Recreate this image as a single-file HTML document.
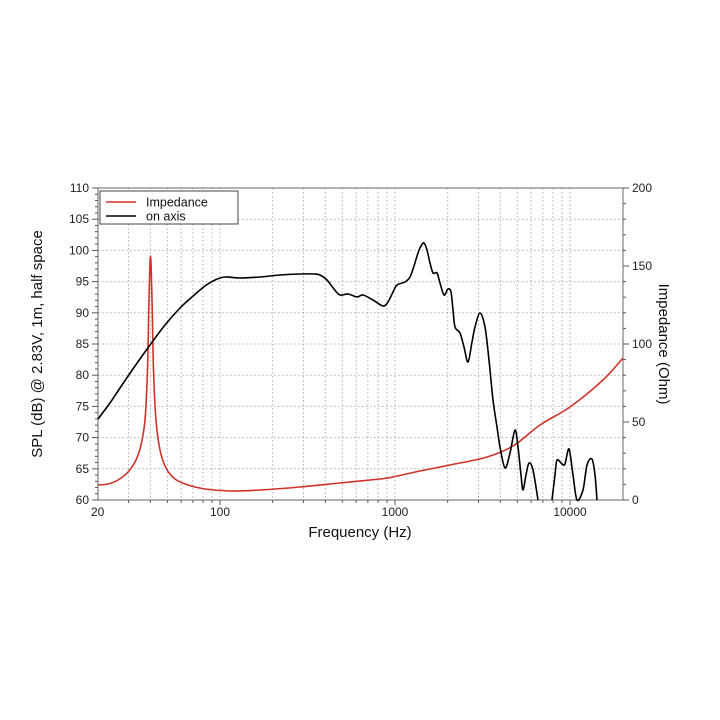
<!DOCTYPE html>
<html><head><meta charset="utf-8"><style>
html,body{margin:0;padding:0;background:#fff;}
svg{display:block;font-family:"Liberation Sans",Arial,sans-serif;}
</style></head><body>
<svg id="s" width="720" height="720" viewBox="0 0 720 720" xmlns="http://www.w3.org/2000/svg">
<g id="grid" stroke="#b0b0b0" stroke-width="1" stroke-dasharray="1.5,2.5" fill="none"></g>
<g id="ticks" stroke="#555" stroke-width="1"></g>
<rect x="98" y="188" width="525" height="312" fill="none" stroke="#666" stroke-width="1"/>
<g id="curves" fill="none" stroke-width="1.6" stroke-linejoin="round"></g>
<g id="lbl" font-size="12" fill="#222"></g>
<rect x="100" y="191" width="138" height="33" fill="#fff" stroke="#444" stroke-width="1"/>
<line x1="106" y1="202" x2="136" y2="202" stroke="#d0322a" stroke-width="1.6"/>
<line x1="106" y1="216" x2="136" y2="216" stroke="#000" stroke-width="1.6"/>
<text x="146" y="206.5" font-size="12.5" fill="#111">Impedance</text>
<text x="146" y="220.5" font-size="12.5" fill="#111">on axis</text>
<text x="360" y="537" font-size="15" text-anchor="middle" fill="#111">Frequency (Hz)</text>
<text transform="translate(42,344) rotate(-90)" font-size="15" text-anchor="middle" fill="#111">SPL (dB) @ 2.83V, 1m, half space</text>
<text transform="translate(659,344) rotate(90)" font-size="15" text-anchor="middle" fill="#111">Impedance (Ohm)</text>
</svg>
<script>
var NS="http://www.w3.org/2000/svg";
function el(p,t,a,txt){var e=document.createElementNS(NS,t);for(var k in a)e.setAttribute(k,a[k]);if(txt!=null)e.textContent=txt;document.getElementById(p).appendChild(e);}
function fx(f){return 220+175*Math.log10(f/100);}
function smooth(pts){var d="M"+pts[0][0]+","+pts[0][1];for(var i=0;i<pts.length-1;i++){var p0=pts[Math.max(i-1,0)],p1=pts[i],p2=pts[i+1],p3=pts[Math.min(i+2,pts.length-1)];var t=0.16;d+=" C"+(p1[0]+(p2[0]-p0[0])*t)+","+(p1[1]+(p2[1]-p0[1])*t)+" "+(p2[0]-(p3[0]-p1[0])*t)+","+(p2[1]-(p3[1]-p1[1])*t)+" "+p2[0]+","+p2[1];}return d;}
function P(s){return s.trim().split(/\s+/).map(function(q){return q.split(",").map(Number);});}
var red=P("98,485 108,484 118,480 128,472 136,460 141,445 145,420 147.5,370 149,300 150.5,256 152,300 153.5,370 156,420 160,450 166,468 175,479 188,485 205,489 230,491 260,490 300,487 340,483 380,479 393,477 420,471 450,465 487,457 513,446 540,425 570,407 603,380 623,358");
var b1=P("98,419 110,403 120,388 135,366 150,345 165,325 180,308 192,297 205,286 215,280 225,277 240,278 260,277 280,275 300,274 315,274 320,275 327,280 334,289 340,295 348,294 357,297 363,295 373,300 383,306 388,302 393,292 397,285 405,282 410,277 414,266 418,253 421,246 424,243 427,250 430,263 433,273 437,273 440,283 444,295 448,289 451,292 453,310 455,327 460,333 464,347 468,362 472,342 475,327 480,313 485,327 489,360 493,400 497,427 500,447 505,468 510,453 515,430 518,447 521,475 523,490 526,475 529,463 533,470 538,500");
var b2=P("552,500 555,475 557,460 562,464 565,464 569,449 573,475 577,500 583,490 587,465 592,459 595,475 597,500");
var fs=[30,40,50,60,70,80,90,100,200,300,400,500,600,700,800,900,1000,2000,3000,4000,5000,6000,7000,8000,9000,10000];
fs.forEach(function(f){var x=fx(f);el("grid","line",{x1:x,y1:188,x2:x,y2:500});el("ticks","line",{x1:x,y1:500,x2:x,y2:(f==100||f==1000||f==10000)?505:503});});
for(var d=65;d<110;d+=5){var y=500-(d-60)*6.24;el("grid","line",{x1:98,y1:y,x2:623,y2:y});}
for(var d=60;d<=110;d++){var y=500-(d-60)*6.24;el("ticks","line",{x1:98,y1:y,x2:d%5==0?92:95,y2:y});if(d%5==0)el("lbl","text",{x:89,y:y+4,"text-anchor":"end"},d);}
for(var o=0;o<=200;o+=10){var y=500-o*1.56;el("ticks","line",{x1:623,y1:y,x2:o%50==0?629:626,y2:y});if(o%50==0)el("lbl","text",{x:632,y:y+4},o);}
[[20,"20"],[100,"100"],[1000,"1000"],[10000,"10000"]].forEach(function(a){el("lbl","text",{x:fx(a[0]),y:516,"text-anchor":"middle"},a[1]);});
el("curves","path",{d:smooth(red),stroke:"#d0322a"});
el("curves","path",{d:smooth(b1),stroke:"#000"});
el("curves","path",{d:smooth(b2),stroke:"#000"});
</script>
</body></html>
